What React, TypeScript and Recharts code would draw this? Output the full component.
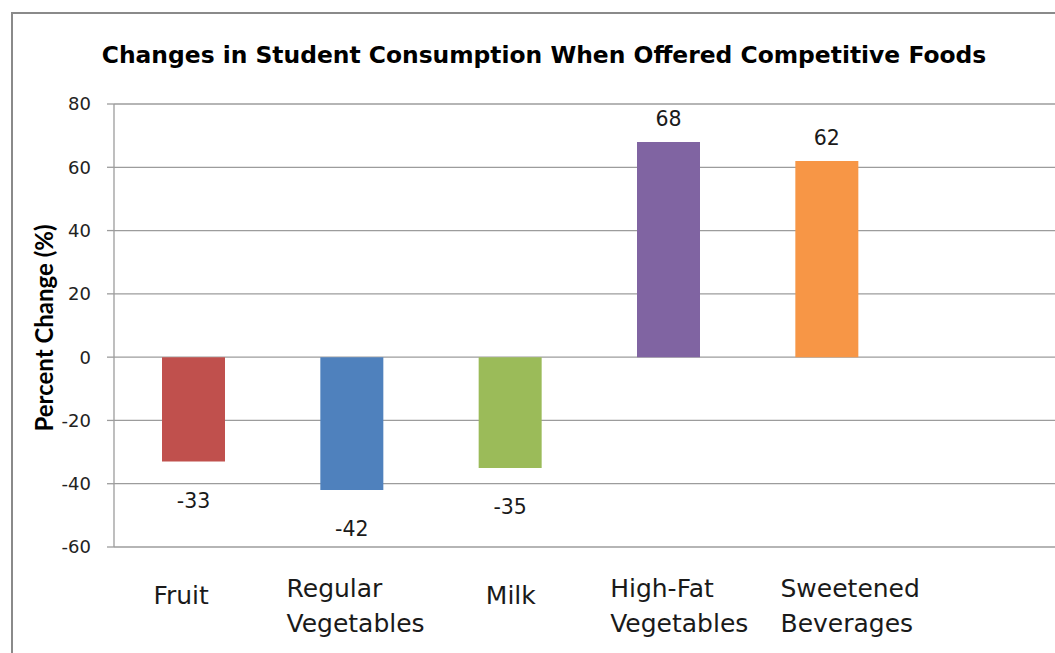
import React from 'react';
import { BarChart, Bar, XAxis, YAxis, CartesianGrid, Cell, LabelList } from 'recharts';

// Percent change in student consumption per food group; the last slot is an empty category.
const categories = ['Fruit', 'Regular Vegetables', 'Milk', 'High-Fat Vegetables', 'Sweetened Beverages', ''];
const percentChange: (number | null)[] = [-33, -42, -35, 68, 62, null];
const barColors = ['#C0504D', '#4F81BD', '#9BBB59', '#8064A2', '#F79646', '#FFFFFF'];
const yTicks = [-60, -40, -20, 0, 20, 40, 60, 80];

const data = categories.map((name, i) => ({ name, value: percentChange[i] }));

const WIDE_FONT = '"DejaVu Sans", Verdana, sans-serif';
const AXIS_GRAY = '#9c9c9c';

// Horizontal nudge of each category caption relative to its band centre.
const captionShift: Record<string, number> = {
  Fruit: -12,
  'Regular Vegetables': -65,
  Milk: 1,
  'High-Fat Vegetables': -58,
  'Sweetened Beverages': -46,
};

const CategoryTick = (props: any) => {
  const { x, y, payload } = props;
  const label: string = payload.value || '';
  if (!label) return null;
  const lines = label.split(' ');
  const shift = captionShift[label] ?? 0;
  if (lines.length === 1) {
    return (
      <text x={x + shift} y={y + 57} textAnchor="middle" fontFamily={WIDE_FONT} fontSize={25} fill="#1a1a1a">
        {label}
      </text>
    );
  }
  return (
    <g>
      {lines.map((line, i) => (
        <text key={i} x={x + shift} y={y + 50 + i * 35} textAnchor="start" fontFamily={WIDE_FONT} fontSize={25} fill="#1a1a1a">
          {line}
        </text>
      ))}
    </g>
  );
};

const ValueLabel = (props: any) => {
  const { x, y, width, height, value } = props;
  if (value === null || value === undefined) return null;
  const top = Math.min(y, y + height);
  const bottom = Math.max(y, y + height);
  const cx = x + width / 2;
  const ty = value >= 0 ? top - 16 : bottom + 46;
  return (
    <text x={cx} y={ty} textAnchor="middle" fontFamily={WIDE_FONT} fontSize={20.5} fill="#1a1a1a">
      {value}
    </text>
  );
};

const AxisTitle = (props: any) => {
  const vb = props.viewBox || { x: 0, y: 104, height: 443 };
  const cx = vb.x + 43;
  const cy = 328;
  return (
    <text
      x={cx}
      y={cy}
      transform={`rotate(-90 ${cx} ${cy})`}
      textAnchor="middle"
      dominantBaseline="central"
      fontFamily="Lato, sans-serif"
      fontWeight={700}
      fontSize={24}
      fill="#000"
    >
      Percent Change (%)
    </text>
  );
};

export default function App() {
  return (
    <div
      style={{
        position: 'absolute',
        left: 0,
        top: 0,
        width: 1055,
        height: 653,
        overflow: 'hidden',
        background: '#fff',
      }}
    >
      <div
        style={{
          position: 'absolute',
          left: 11,
          top: 12,
          width: 1100,
          height: 700,
          border: '2px solid #8a8a8a',
          boxSizing: 'border-box',
        }}
      />
      <div
        style={{
          position: 'absolute',
          left: 0,
          top: 40,
          width: 1088,
          textAlign: 'center',
          fontFamily: WIDE_FONT,
          fontWeight: 700,
          fontSize: 23.4,
          lineHeight: '30px',
          color: '#000',
          whiteSpace: 'nowrap',
        }}
      >
        Changes in Student Consumption When Offered Competitive Foods
      </div>
      <div style={{ position: 'absolute', left: 0, top: 0 }}>
        <BarChart
          width={1070}
          height={700}
          data={data}
          margin={{ top: 104, right: 6, bottom: 0, left: 0 }}
          barSize={63}
        >
          <CartesianGrid vertical={false} stroke={AXIS_GRAY} strokeWidth={1.3} />
          <XAxis
            dataKey="name"
            height={153}
            axisLine={false}
            tickLine={false}
            tickSize={0}
            tickMargin={0}
            interval={0}
            tick={<CategoryTick />}
          />
          <YAxis
            width={114}
            domain={[-60, 80]}
            ticks={yTicks}
            interval={0}
            allowDataOverflow
            tickSize={7}
            tickMargin={16}
            axisLine={{ stroke: AXIS_GRAY, strokeWidth: 1.3 }}
            tickLine={{ stroke: AXIS_GRAY, strokeWidth: 1.3 }}
            tick={{ fontFamily: WIDE_FONT, fontSize: 18, fill: '#222' }}
            label={<AxisTitle />}
          />
          <Bar dataKey="value" isAnimationActive={false}>
            {data.map((d, i) => (
              <Cell key={d.name || `empty-${i}`} fill={barColors[i]} />
            ))}
            <LabelList dataKey="value" content={<ValueLabel />} />
          </Bar>
        </BarChart>
      </div>
    </div>
  );
}
